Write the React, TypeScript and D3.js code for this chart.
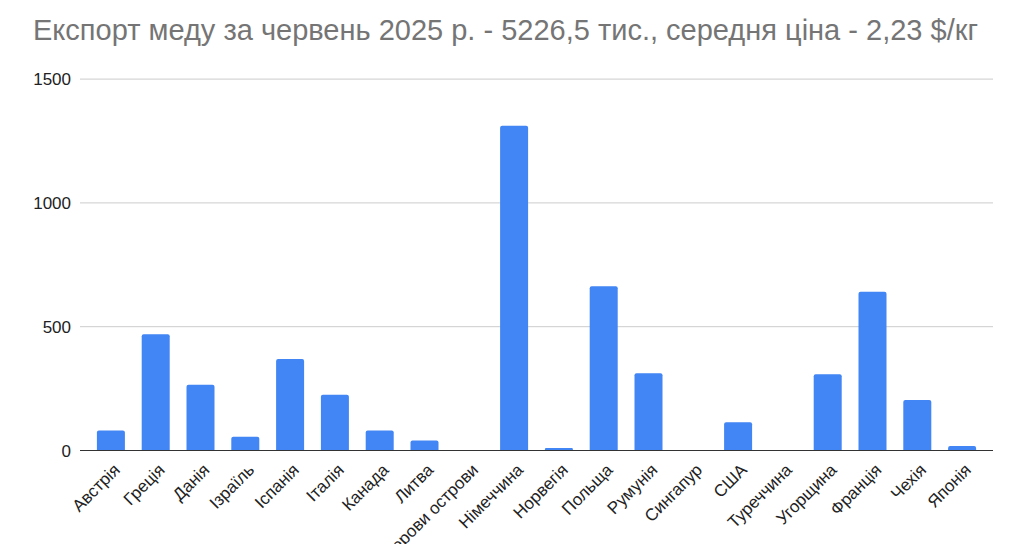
import React from "react";
import * as d3 from "d3";

const categories = [
  "Австрія", "Греція", "Данія", "Ізраїль", "Іспанія", "Італія", "Канада", "Литва",
  "Фарерови острови", "Німеччина", "Норвегія", "Польща", "Румунія", "Сингапур", "США",
  "Туреччина", "Угорщина", "Франція", "Чехія", "Японія",
];
const values = [81, 470, 266, 56, 370, 225, 81, 40, 0, 1312, 10, 663, 312, 0, 114, 0, 308, 641, 204, 18];
const yTicks = [0, 500, 1000, 1500];
const title = "Експорт меду за червень 2025 р. - 5226,5 тис., середня ціна - 2,23 $/кг";

const W = 1024;
const H = 544;

export default function App() {
  const x = d3
    .scaleBand<string>()
    .domain(categories)
    .range([88.5, 984.5])
    .paddingInner(0.375)
    .paddingOuter(0.1875);
  const y = d3.scaleLinear().domain([0, 1500]).range([450.5, 79.1]);
  const font = "Arial, 'Liberation Sans', sans-serif";

  return (
    <svg
      width={W}
      height={H}
      style={{ position: "absolute", left: 0, top: 0, background: "#fff" }}
      fontFamily={font}
    >
      <rect x={0} y={0} width={W} height={H} fill="#fff" />
      <text x={33} y={40} fontSize={29} fill="#757575">
        {title}
      </text>
      {yTicks.map((t) => (
        <g key={t}>
          {t > 0 && (
            <line x1={80} x2={993} y1={y(t)} y2={y(t)} stroke="#cccccc" strokeWidth={1} />
          )}
          <text x={71} y={y(t)} dy="0.36em" textAnchor="end" fontSize={17} fill="#222">
            {t}
          </text>
        </g>
      ))}
      {categories.map((c, i) => {
        const v = values[i];
        if (v <= 0) return null;
        const bx = x(c)!;
        const by = y(v);
        const bh = y(0) - by;
        const r = Math.min(2, bh / 2);
        const bw = x.bandwidth();
        const path = d3.path();
        path.moveTo(bx, y(0));
        path.lineTo(bx, by + r);
        path.arcTo(bx, by, bx + r, by, r);
        path.lineTo(bx + bw - r, by);
        path.arcTo(bx + bw, by, bx + bw, by + r, r);
        path.lineTo(bx + bw, y(0));
        path.closePath();
        return <path key={c} d={path.toString()} fill="#4285f4" />;
      })}
      <line x1={80} x2={993} y1={y(0)} y2={y(0)} stroke="#333" strokeWidth={1} />
      {categories.map((c) => {
        const cx = x(c)! + x.bandwidth() / 2;
        return (
          <text
            key={c}
            transform={`translate(${cx + 10},${471}) rotate(-45)`}
            textAnchor="end"
            fontSize={17}
            fill="#222"
          >
            {c}
          </text>
        );
      })}
    </svg>
  );
}
